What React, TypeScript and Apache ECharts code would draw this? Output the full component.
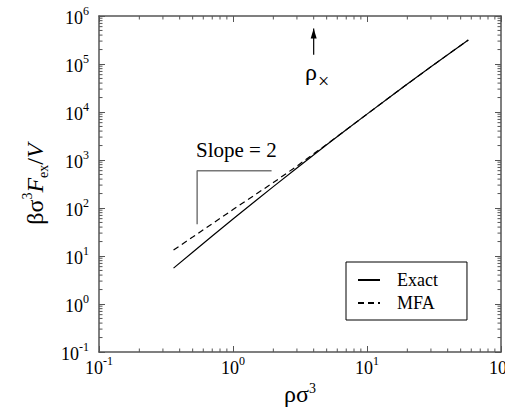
import React, { useEffect, useRef } from "react";
import * as echarts from "echarts";

// ρσ³ values and the two curves
const rho = [0.36, 0.5, 0.7, 1, 1.5, 2, 3, 5, 7, 10, 15, 20, 30, 40, 57];
const exact = [5.6, 12.0, 26.1, 58.9, 147, 279, 681, 2070, 4250, 9030, 21100, 38200, 87300, 156000, 316000];
const mfa = [13.3, 24.8, 47.1, 92.9, 198, 339, 747, 2124, 4280, 9030, 21100, 38200, 87300, 156000, 316000];

// slope = 2 guide
const slopeX = [0.54, 0.54, 1.94];
const slopeY = [46, 600, 600];

// ρ× arrow
const arrowX = [4, 4];
const arrowY = [1.55e5, 5.5e5];

// decades (for minor ticks) and minor multipliers
const xDecades = [-1, 0, 1];
const yDecades = [-1, 0, 1, 2, 3, 4, 5];
const minorMult = [2, 3, 4, 5, 6, 7, 8, 9];

const FONT = "'Liberation Serif', 'Times New Roman', serif";
const AXIS = "#555";

const tickFormatter = (v: number) => {
  const e = Math.round(Math.log10(v));
  return `{b|10}{e|${e}}`;
};
const tickRich = {
  b: { fontSize: 18, fontFamily: FONT, color: "#000", lineHeight: 22, verticalAlign: "bottom" },
  e: { fontSize: 12, fontFamily: FONT, color: "#000", lineHeight: 12, verticalAlign: "top" },
};

export default function App() {
  const ref = useRef<HTMLDivElement>(null);
  useEffect(() => {
    if (!ref.current) return;
    const chart = echarts.init(ref.current, undefined, { renderer: "svg" });
    const xy = (xs: number[], ys: number[]) => xs.map((x, i) => [x, ys[i]]);

    const baseAxis = {
      type: "log" as const,
      logBase: 10,
      axisLine: { show: true, lineStyle: { color: AXIS, width: 1.5 } },
      axisTick: { show: true, inside: true, length: 6, lineStyle: { color: AXIS, width: 1 } },
      splitLine: { show: false },
      minorTick: { show: false },
    };

    const option: any = {
      animation: false,
      grid: { left: 99, right: 4, top: 16, bottom: 56, outerBoundsMode: "none", containLabel: false },
      xAxis: [
        {
          ...baseAxis,
          min: 0.1,
          max: 100,
          position: "bottom",
          axisLabel: { show: true, margin: 3, formatter: tickFormatter, rich: tickRich },
          name: "{a|ρσ}{s|3}",
          nameLocation: "middle",
          nameGap: 22,
          nameTextStyle: {
            rich: {
              a: { fontSize: 24, fontFamily: FONT, color: "#000", lineHeight: 24, verticalAlign: "bottom" },
              s: { fontSize: 14, fontFamily: FONT, color: "#000", lineHeight: 14, verticalAlign: "top" },
            },
          },
        },
        {
          ...baseAxis,
          min: 0.1,
          max: 100,
          position: "top",
          axisLabel: { show: false },
        },
      ],
      yAxis: [
        {
          ...baseAxis,
          min: 0.1,
          max: 1e6,
          position: "left",
          axisLabel: { show: true, margin: 10, formatter: tickFormatter, rich: tickRich },
          name: "{a|βσ}{s|3}{i|F}{d|ex}{a|/}{i|V}",
          nameLocation: "middle",
          nameRotate: 90,
          nameGap: 49,
          nameTextStyle: {
            rich: {
              a: { fontSize: 24, fontFamily: FONT, color: "#000", lineHeight: 30, verticalAlign: "middle" },
              i: { fontSize: 24, fontFamily: FONT, fontStyle: "italic", color: "#000", lineHeight: 30, verticalAlign: "middle" },
              s: { fontSize: 14, fontFamily: FONT, color: "#000", lineHeight: 14, verticalAlign: "top" },
              d: { fontSize: 14, fontFamily: FONT, color: "#000", lineHeight: 14, verticalAlign: "bottom" },
            },
          },
        },
        {
          ...baseAxis,
          min: 0.1,
          max: 1e6,
          position: "right",
          axisLabel: { show: false },
        },
      ],
      legend: {
        data: ["Exact", "MFA"],
        orient: "vertical",
        left: 346,
        top: 262,
        padding: [9, 29, 8, 11],
        itemWidth: 22,
        itemHeight: 14,
        itemGap: 5,
        borderColor: "#000",
        borderWidth: 1,
        backgroundColor: "#fff",
        itemStyle: { opacity: 0, color: "transparent", borderWidth: 0 },
        textStyle: { fontFamily: FONT, fontSize: 18, color: "#000", padding: [0, 0, 0, 12] },
      },
      graphic: [
        {
          type: "text",
          left: 196,
          top: 139,
          style: { text: "Slope = 2", font: `21px ${FONT}`, fill: "#000" },
        },
        {
          type: "text",
          left: 305,
          top: 60,
          style: { text: "ρ", font: `24px ${FONT}`, fill: "#000" },
        },
        {
          type: "text",
          left: 318,
          top: 71,
          style: { text: "×", font: `20px ${FONT}`, fill: "#000" },
        },
      ],
      series: [
        {
          name: "Exact",
          type: "line",
          data: xy(rho, exact),
          symbol: "none",
          smooth: false,
          lineStyle: { color: "#000", width: 1.2 },
          itemStyle: { color: "#000", opacity: 0 },
        },
        {
          name: "MFA",
          type: "line",
          data: xy(rho, mfa),
          symbol: "none",
          smooth: false,
          lineStyle: { color: "#000", width: 1.2, type: [6, 4] },
          itemStyle: { color: "#000", opacity: 0 },
        },
        {
          name: "slope",
          type: "line",
          data: xy(slopeX, slopeY),
          symbol: "none",
          lineStyle: { color: "#777", width: 1.5 },
          silent: true,
        },
        {
          name: "arrow",
          type: "line",
          data: xy(arrowX, arrowY),
          symbol: "none",
          lineStyle: { color: "#000", width: 1.2 },
          silent: true,
          markPoint: {
            silent: true,
            symbol: "triangle",
            symbolSize: [6, 10],
            symbolOffset: [0, 5],
            itemStyle: { color: "#000" },
            label: { show: false },
            data: [{ coord: [arrowX[1], arrowY[1]] }],
          },
        },
        {
          name: "minor",
          type: "custom",
          silent: true,
          data: [[1, 1]],
          renderItem: (params: any, api: any) => {
            const cs = params.coordSys;
            const left = cs.x;
            const top = cs.y;
            const right = cs.x + cs.width;
            const bottom = cs.y + cs.height;
            const len = 3.5;
            const st = { stroke: AXIS, lineWidth: 1 };
            const children: any[] = [];
            xDecades.forEach((d) => {
              minorMult.forEach((m) => {
                const px = api.coord([m * Math.pow(10, d), 1])[0];
                children.push({ type: "line", shape: { x1: px, y1: bottom, x2: px, y2: bottom - len }, style: st });
                children.push({ type: "line", shape: { x1: px, y1: top, x2: px, y2: top + len }, style: st });
              });
            });
            yDecades.forEach((d) => {
              minorMult.forEach((m) => {
                const py = api.coord([1, m * Math.pow(10, d)])[1];
                children.push({ type: "line", shape: { x1: left, y1: py, x2: left + len, y2: py }, style: st });
                children.push({ type: "line", shape: { x1: right, y1: py, x2: right - len, y2: py }, style: st });
              });
            });
            return { type: "group", children };
          },
        },
      ],
    };
    chart.setOption(option);
    return () => chart.dispose();
  }, []);
  return (
    <div
      ref={ref}
      style={{ position: "fixed", left: 0, top: 0, width: 505, height: 408, background: "#fff" }}
    />
  );
}
